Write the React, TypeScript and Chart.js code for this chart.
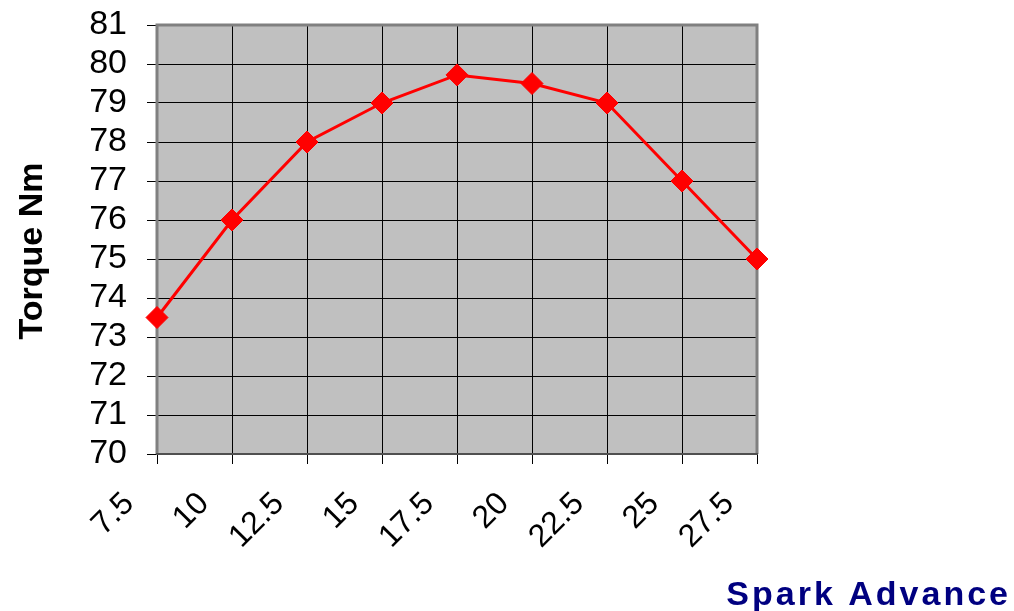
import React, { useEffect, useRef } from "react";
import { Chart, registerables } from "chart.js";

Chart.register(...registerables);

const categories = ["7.5", "10", "12.5", "15", "17.5", "20", "22.5", "25", "27.5"];
const torque = [73.5, 76, 78, 79, 79.72, 79.5, 79, 77, 75];
const yTitle = "Torque Nm";
const xTitle = "Spark Advance";
const yMin = 70;
const yMax = 81;

const FONT = "'Liberation Sans', Arial, sans-serif";

const plotPlugin = {
  id: "plotDecor",
  beforeDraw(chart: any) {
    const { ctx, chartArea } = chart;
    const { left, top, right, bottom } = chartArea;
    ctx.save();
    ctx.fillStyle = "#ffffff";
    ctx.fillRect(0, 0, chart.width, chart.height);
    ctx.fillStyle = "#C0C0C0";
    ctx.fillRect(left, top, right - left, bottom - top);
    ctx.restore();
  },
  beforeDatasetsDraw(chart: any) {
    const { ctx, chartArea } = chart;
    const { left, top, right, bottom } = chartArea;
    ctx.save();
    ctx.strokeStyle = "#808080";
    ctx.lineWidth = 3;
    ctx.beginPath();
    ctx.moveTo(left, bottom);
    ctx.lineTo(left, top);
    ctx.lineTo(right, top);
    ctx.lineTo(right, bottom);
    ctx.stroke();
    ctx.strokeStyle = "#505050";
    ctx.lineWidth = 2;
    ctx.beginPath();
    ctx.moveTo(left - 1, bottom);
    ctx.lineTo(right + 1, bottom);
    ctx.stroke();
    ctx.restore();
  },
  afterDraw(chart: any) {
    const { ctx } = chart;
    ctx.save();
    ctx.fillStyle = "#000000";
    ctx.font = `bold 34px ${FONT}`;
    ctx.textAlign = "center";
    ctx.textBaseline = "alphabetic";
    ctx.translate(42, 251);
    ctx.rotate(-Math.PI / 2);
    ctx.fillText(yTitle, 0, 0);
    ctx.restore();

    ctx.save();
    ctx.fillStyle = "#000080";
    ctx.font = `bold 34px ${FONT}`;
    (ctx as any).letterSpacing = "3px";
    ctx.textAlign = "right";
    ctx.textBaseline = "alphabetic";
    ctx.fillText(xTitle, 1011, 605);
    ctx.restore();
  },
};

function zeroPad(scale: any) {
  scale.paddingTop = 0;
  scale.paddingBottom = 0;
  scale.paddingLeft = 0;
  scale.paddingRight = 0;
}

export default function App() {
  const ref = useRef<HTMLCanvasElement | null>(null);
  useEffect(() => {
    if (!ref.current) return;
    const chart = new Chart(ref.current, {
      type: "line",
      data: {
        labels: categories,
        datasets: [
          {
            data: torque,
            borderColor: "#FF0000",
            backgroundColor: "#FF0000",
            borderWidth: 3,
            pointStyle: "rectRot",
            pointRadius: 11,
            pointBorderWidth: 1,
            pointBackgroundColor: "#FF0000",
            pointBorderColor: "#FF0000",
            tension: 0,
          },
        ],
      },
      plugins: [plotPlugin],
      options: {
        animation: false,
        responsive: false,
        devicePixelRatio: 1,
        layout: { padding: { left: 0, top: 25, right: 257, bottom: 0 } },
        plugins: { legend: { display: false }, tooltip: { enabled: false } },
        scales: {
          x: {
            offset: false,
            afterFit(scale: any) {
              scale.height = 157;
              zeroPad(scale);
            },
            grid: { color: "#000000", lineWidth: 1, tickLength: 10, tickColor: "#000000", drawTicks: true },
            border: { display: false },
            ticks: {
              color: "#000000",
              font: { family: FONT, size: 32 },
              minRotation: 45,
              maxRotation: 45,
              autoSkip: false,
              padding: 21,
              labelOffset: -28,
            },
          },
          y: {
            min: yMin,
            max: yMax,
            afterFit(scale: any) {
              scale.width = 157;
              zeroPad(scale);
            },
            grid: { color: "#000000", lineWidth: 1, tickLength: 10, tickColor: "#000000", drawTicks: true },
            border: { display: false },
            ticks: {
              stepSize: 1,
              autoSkip: false,
              color: "#000000",
              font: { family: FONT, size: 34 },
              padding: 20,
            },
          },
        },
      },
    });
    return () => chart.destroy();
  }, []);
  return (
    <div style={{ position: "absolute", left: 0, top: 0, width: 1014, height: 611 }}>
      <canvas ref={ref} width={1014} height={611} style={{ width: 1014, height: 611 }} />
    </div>
  );
}
